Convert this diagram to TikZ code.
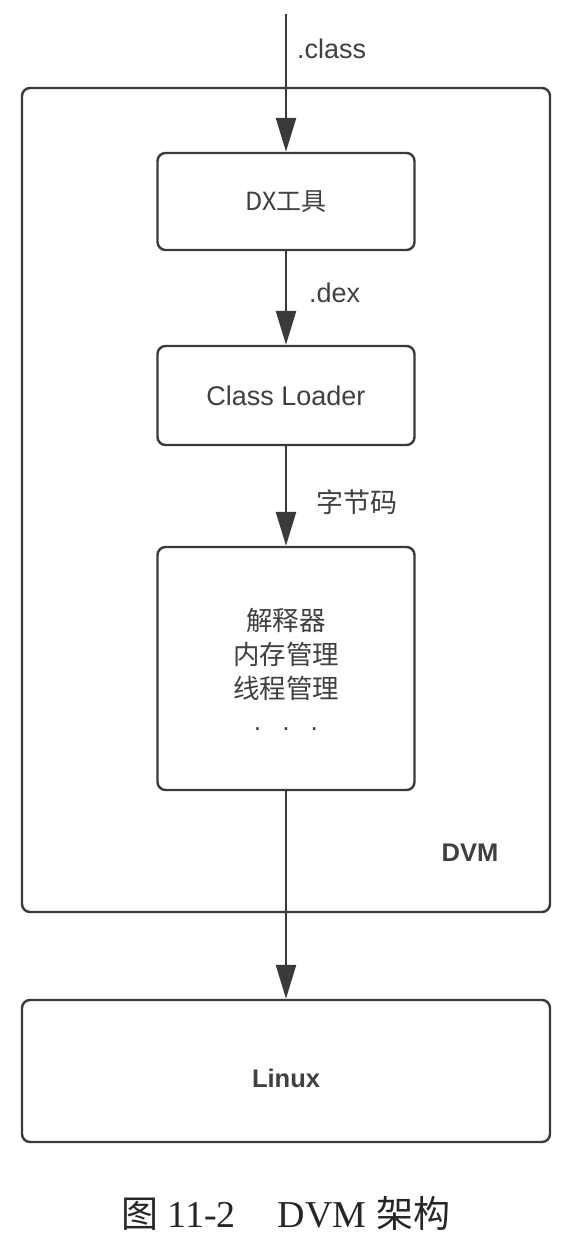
\documentclass[tikz,border=0pt]{standalone}
\usepackage{fontspec}
\usetikzlibrary{arrows.meta}
\newfontfamily\cjk{Noto Sans CJK SC}
\newfontfamily\arial{Liberation Sans}
\newfontfamily\capserif{Liberation Serif}
\definecolor{ink}{HTML}{3A3A3A}
\definecolor{txt}{HTML}{404040}
\tikzset{
  box/.style={draw=ink, line width=2.4pt, rounded corners=8pt, minimum width=257pt, inner sep=0pt},
  wide/.style={draw=ink, line width=2.4pt, rounded corners=8pt, minimum width=528pt, inner sep=0pt},
  flow/.style={draw=ink, line width=2.6pt, -{Triangle[length=34pt,width=20pt]}},
  lab/.style={text=txt, font=\arial\fontsize{27}{30}\selectfont, inner sep=0pt, anchor=west},
  cjklab/.style={text=txt, font=\cjk\fontsize{27}{34}\selectfont, inner sep=0pt},
  boldlab/.style={text=txt, font=\arial\bfseries\fontsize{25.5}{30}\selectfont, inner sep=0pt}
}
\begin{document}
\begin{tikzpicture}[x=1pt,y=-1pt]
\useasboundingbox (0,0) rectangle (572,1246);
\fill[white] (0,0) rectangle (572,1246);
% outer DVM frame
\node[wide, minimum height=824pt] (dvm) at (286,500) {};
\node[boldlab] (dvmlab) at (470,853) {DVM};
% boxes
\node[box, minimum height=97pt, text=txt, font=\cjk\fontsize{25}{30}\selectfont] (dx) at (286,201.5) {DX工具};
\node[box, minimum height=99pt, text=txt, font=\arial\fontsize{27}{30}\selectfont] (cl) at (286,395.5) {Class Loader};
\node[box, minimum height=243pt] (vm) at (286,668.5) {};
\node[cjklab, align=center, font=\cjk\fontsize{26.5}{34}\selectfont] (vmtxt) at (286,669) {解释器\\内存管理\\线程管理\\[-2pt]{\arial .\hspace{21pt}.\hspace{21pt}.}};
\node[wide, minimum height=142pt] (linux) at (286,1071) {};
\node[boldlab] (linuxlab) at (286,1078) {Linux};
% connectors
\coordinate (top) at (286,14);
\draw[flow] (top) -- (dx.north);
\draw[flow] (dx.south) -- (cl.north);
\draw[flow] (cl.south) -- (vm.north);
\draw[flow] (vm.south) -- (linux.north);
% labels
\node[lab] (classlab) at (297,49) {.class};
\node[lab] (dexlab) at (309,293) {.dex};
\node[cjklab, anchor=west] (bclab) at (316,502) {字节码};
% caption
\node[text=black!85, inner sep=0pt] (cap) at (286,1213) {{\cjk\fontsize{37}{40}\selectfont 图}\hspace{9pt}{\capserif\fontsize{38}{40}\selectfont 11-2\hspace{42pt}DVM}\hspace{10pt}{\cjk\fontsize{37}{40}\selectfont 架构}};
\end{tikzpicture}
\end{document}
